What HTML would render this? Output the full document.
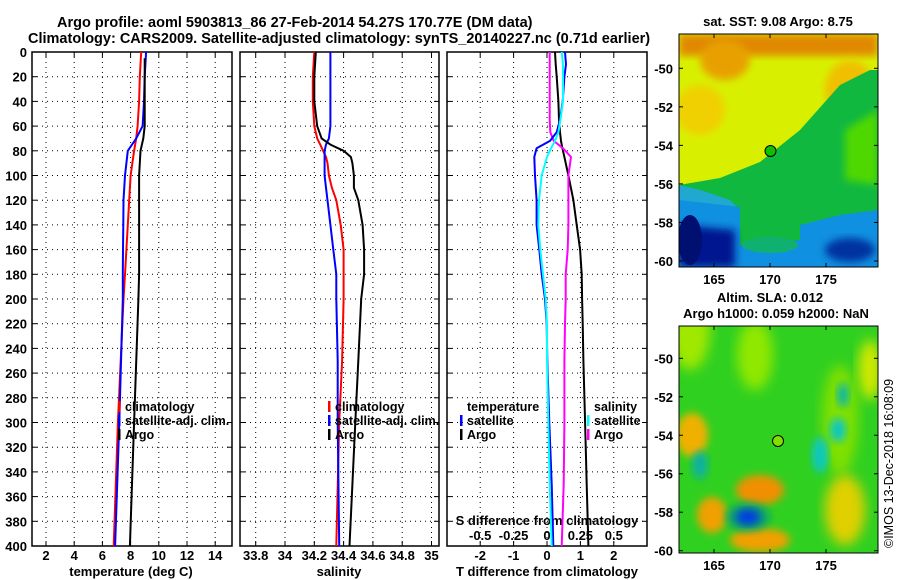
<!DOCTYPE html>
<html><head><meta charset="utf-8"><style>
html,body{margin:0;padding:0;background:#fff}
svg{display:block;font-family:"Liberation Sans",sans-serif;font-weight:bold}
</style></head><body>
<svg id="chart" width="900" height="580" viewBox="0 0 900 580" xmlns="http://www.w3.org/2000/svg">
<defs>
<filter id="bl" x="-20%" y="-20%" width="140%" height="140%"><feGaussianBlur stdDeviation="4"/></filter>
<filter id="bl2" x="-20%" y="-20%" width="140%" height="140%"><feGaussianBlur stdDeviation="6"/></filter>
<clipPath id="c1"><rect x="679" y="34" width="199" height="233"/></clipPath>
<clipPath id="c2"><rect x="679" y="326" width="199" height="227"/></clipPath>
</defs>
<text x="57" y="27" font-size="14.5">Argo profile: aoml 5903813_86 27-Feb-2014 54.27S 170.77E (DM data)</text>
<text x="28" y="43" font-size="14.5">Climatology: CARS2009. Satellite-adjusted climatology: synTS_20140227.nc (0.71d earlier)</text>
<g id="panels"></g>
<!-- SST map -->
<g clip-path="url(#c1)">
<rect x="679" y="34" width="199" height="233" fill="#d8f000"/>
<rect x="679" y="34" width="199" height="22" fill="#e08800" filter="url(#bl)"/>
<ellipse cx="725" cy="60" rx="25" ry="20" fill="#e8a000" filter="url(#bl)"/>
<ellipse cx="850" cy="90" rx="25" ry="30" fill="#f0c000" filter="url(#bl)"/>
<ellipse cx="700" cy="110" rx="25" ry="25" fill="#f0d000" filter="url(#bl)"/>
<polygon points="679,185 720,178 760,162 800,130 840,85 870,70 878,70 878,267 679,267" fill="#10b840"/>
<polygon points="845,130 878,110 878,185 845,180" fill="#50d800" filter="url(#bl)"/>
<polygon points="679,185 700,190 730,200 740,210 730,215 679,215" fill="#20a8d0"/>
<polygon points="679,200 740,207 740,267 679,267" fill="#1090e0"/>
<polygon points="800,225 840,215 878,210 878,267 800,267" fill="#1090e0"/>
<polygon points="740,245 800,240 800,267 740,267" fill="#1090e0"/>
<polygon points="679,225 735,230 735,267 679,267" fill="#001890" filter="url(#bl)"/>
<ellipse cx="850" cy="250" rx="25" ry="12" fill="#0030a0" filter="url(#bl)"/>
<ellipse cx="770" cy="245" rx="28" ry="8" fill="#10b070"/>
<ellipse cx="690" cy="240" rx="12" ry="25" fill="#001070"/>
<circle cx="770.5" cy="151" r="5.5" fill="#10c000" stroke="#000" stroke-width="1"/>
</g>
<rect x="679" y="34" width="199" height="233" fill="none" stroke="#000" stroke-width="1"/>
<text x="778" y="26" font-size="13" text-anchor="middle">sat. SST: 9.08 Argo: 8.75</text>
<!-- SLA map -->
<g clip-path="url(#c2)">
<rect x="679" y="326" width="199" height="227" fill="#30d020"/>
<ellipse cx="690" cy="330" rx="20" ry="40" fill="#a0e800" filter="url(#bl2)"/>
<ellipse cx="755" cy="355" rx="18" ry="35" fill="#90e800" filter="url(#bl2)"/>
<ellipse cx="870" cy="370" rx="12" ry="30" fill="#d0e800" filter="url(#bl2)"/>
<ellipse cx="692" cy="435" rx="16" ry="22" fill="#f0b000" filter="url(#bl)"/>
<ellipse cx="840" cy="420" rx="18" ry="55" fill="#80e000" filter="url(#bl2)"/>
<ellipse cx="845" cy="510" rx="20" ry="35" fill="#e0d000" filter="url(#bl2)"/>
<ellipse cx="760" cy="490" rx="24" ry="15" fill="#f09000" filter="url(#bl)"/>
<ellipse cx="712" cy="515" rx="15" ry="18" fill="#f0a000" filter="url(#bl)"/>
<ellipse cx="760" cy="540" rx="30" ry="12" fill="#f0a000" filter="url(#bl)"/>
<ellipse cx="748" cy="517" rx="22" ry="14" fill="#10a070" filter="url(#bl)"/>
<ellipse cx="748" cy="517" rx="12" ry="8" fill="#0040e0" filter="url(#bl)"/>
<ellipse cx="820" cy="455" rx="8" ry="18" fill="#10c8c0" filter="url(#bl)"/>
<ellipse cx="838" cy="430" rx="8" ry="12" fill="#10c8c0" filter="url(#bl)"/>
<ellipse cx="700" cy="465" rx="8" ry="14" fill="#10b0a0" filter="url(#bl)"/>
<ellipse cx="843" cy="395" rx="6" ry="12" fill="#10b8a0" filter="url(#bl)"/>
<circle cx="778" cy="441" r="5.5" fill="#80e000" stroke="#000" stroke-width="1"/>
</g>
<rect x="679" y="326" width="199" height="227" fill="none" stroke="#000" stroke-width="1"/>
<text x="770" y="302" font-size="13" text-anchor="middle">Altim. SLA: 0.012</text>
<text x="776" y="318" font-size="13" text-anchor="middle">Argo h1000: 0.059 h2000: NaN</text>
<text transform="translate(893,548) rotate(-90)" font-size="12.5" font-weight="normal">©IMOS 13-Dec-2018 16:08:09</text>
<g id="maps-axes"></g>
</svg>
<script>
// ---- data ----
const depthT = [0, 20, 40, 60, 70, 80, 100, 120, 140, 160, 180, 200, 300, 400];
const tempClim = [8.75, 8.65, 8.6, 8.5, 8.4, 8.25, 8.0, 7.9, 7.8, 7.7, 7.6, 7.5, 7.1, 6.8];
const tempSat = [9.1, 9.0, 8.95, 8.85, 8.4, 7.8, 7.6, 7.5, 7.48, 7.46, 7.45, 7.45, 7.2, 6.9];
const depthArgo = [5, 20, 40, 60, 70, 80, 100, 120, 140, 160, 180, 200, 300, 400];
const tempArgo = [9.0, 9.0, 9.0, 9.0, 8.9, 8.7, 8.6, 8.6, 8.6, 8.6, 8.6, 8.55, 8.25, 7.95];
const depthS = [0, 20, 40, 60, 70, 75, 80, 85, 90, 100, 110, 120, 140, 160, 180, 200, 250, 300, 400];
const salClim = [34.2, 34.19, 34.19, 34.2, 34.22, 34.24, 34.26, 34.28, 34.29, 34.3, 34.32, 34.35, 34.38, 34.4, 34.4, 34.4, 34.39, 34.37, 34.35];
const salSat = [34.31, 34.31, 34.31, 34.31, 34.3, 34.28, 34.27, 34.27, 34.27, 34.27, 34.28, 34.29, 34.31, 34.33, 34.35, 34.35, 34.36, 34.36, 34.37];
const salArgo = [34.21, 34.2, 34.2, 34.22, 34.25, 34.31, 34.4, 34.45, 34.46, 34.47, 34.47, 34.5, 34.53, 34.54, 34.54, 34.52, 34.5, 34.48, 34.44];
const depthD = [0, 10, 20, 40, 55, 65, 72, 78, 85, 100, 120, 140, 160, 180, 200, 220, 250, 300, 350, 400];
const tDiffSat = [0.54, 0.57, 0.52, 0.47, 0.39, 0.29, 0.09, -0.31, -0.38, -0.36, -0.31, -0.31, -0.23, -0.16, -0.06, -0.01, 0.01, 0.07, 0.14, 0.19];
const tDiffArgo = [0.24, 0.26, 0.29, 0.34, 0.36, 0.39, 0.42, 0.46, 0.52, 0.64, 0.79, 0.89, 0.99, 1.04, 1.05, 1.07, 1.09, 1.14, 1.19, 1.24];
const sDiffSat = [0.11, 0.12, 0.12, 0.12, 0.1, 0.085, 0.06, 0.03, 0.0, -0.04, -0.06, -0.065, -0.05, -0.03, -0.01, 0.0, 0.0, 0.01, 0.02, 0.035];
const sDiffArgo = [0.02, 0.02, 0.02, 0.02, 0.02, 0.025, 0.05, 0.12, 0.18, 0.16, 0.16, 0.16, 0.155, 0.14, 0.14, 0.135, 0.13, 0.13, 0.125, 0.11];
const depthTicks = [0,20,40,60,80,100,120,140,160,180,200,220,240,260,280,300,320,340,360,380,400];
const tempTicks = [2,4,6,8,10,12,14];
const salTicks = ["33.8","34","34.2","34.4","34.6","34.8","35"];
const tdTicks = [-2,-1,0,1,2];
const sdTicks = ["-0.5","-0.25","0","0.25","0.5"];
const lonTicks = [165,170,175];
const latTicks = [-50,-52,-54,-56,-58,-60];

// ---- axes ----
const NS = "http://www.w3.org/2000/svg";
const root = document.getElementById('panels');
const Y0 = 52, Y1 = 546;
const yD = d => Y0 + d * (Y1 - Y0) / 400;
const P1 = {x0: 32, x1: 232}, P2 = {x0: 240, x1: 439}, P3 = {x0: 447, x1: 647};
const xT = t => 46 + (t - 2) * 14.1;
const xS = s => 285 + (s - 34) * 146.5;
const xTD = t => 547 + t * 33.4;
const xSD = s => 547 + s * 133.6;
function el(tag, attrs, parent) {
  const e = document.createElementNS(NS, tag);
  for (const k in attrs) e.setAttribute(k, attrs[k]);
  (parent || root).appendChild(e);
  return e;
}
function txt(s, attrs, parent) { const e = el('text', attrs, parent); e.textContent = s; return e; }

function frame(P, xs, name) {
  const g = el('g', {});
  
  
  depthTicks.forEach(d => {
    const y = yD(d);
    if (d > 0 && d < 400) el('line', {x1: P.x0, x2: P.x1, y1: y, y2: y, stroke: '#000', 'stroke-width': 1, 'stroke-dasharray': '1,4'}, g);
    el('line', {x1: P.x0, x2: P.x0 + 5, y1: y, y2: y, stroke: '#000'}, g);
    el('line', {x1: P.x1 - 5, x2: P.x1, y1: y, y2: y, stroke: '#000'}, g);
  });
  xs.forEach(x => {
    el('line', {x1: x, x2: x, y1: Y0, y2: Y1, stroke: '#000', 'stroke-width': 1, 'stroke-dasharray': '1,4'}, g);
    el('line', {x1: x, x2: x, y1: Y1 - 5, y2: Y1, stroke: '#000'}, g);
    el('line', {x1: x, x2: x, y1: Y0, y2: Y0 + 5, stroke: '#000'}, g);
  });
  el('rect', {x: P.x0, y: Y0, width: P.x1 - P.x0, height: Y1 - Y0, fill: 'none', stroke: '#000', 'stroke-width': 1.5}, g);
  return g;
}
function line(xsArr, ds, fx, color, name, w) {
  const pts = xsArr.map((v, i) => fx(v).toFixed(1) + ',' + yD(ds[i]).toFixed(1)).join(' ');
  const p = el('polyline', {points: pts, fill: 'none', stroke: color, 'stroke-width': w || 2, 'stroke-linejoin': 'round'});
  
  
}

depthTicks.forEach(d => {
  const t = txt(String(d), {x: 27, y: yD(d) + 5, 'font-size': 13, 'text-anchor': 'end'});
  
  
});

frame(P1, tempTicks.map(xT), 'temperature-panel');
frame(P2, salTicks.map(s => xS(+s)), 'salinity-panel');
frame(P3, tdTicks.map(xTD), 'difference-panel');

tempTicks.forEach(t => { const e = txt(String(t), {x: xT(t), y: 560, 'font-size': 13, 'text-anchor': 'middle'});   });
salTicks.forEach(s => { const e = txt(s, {x: xS(+s), y: 560, 'font-size': 13, 'text-anchor': 'middle'});   });
tdTicks.forEach(t => { const e = txt(String(t), {x: xTD(t), y: 560, 'font-size': 13, 'text-anchor': 'middle'});   });
sdTicks.forEach(s => { const e = txt(s, {x: xSD(+s), y: 540, 'font-size': 13, 'text-anchor': 'middle'});   });

let e;
e = txt('temperature (deg C)', {x: 131, y: 576, 'font-size': 13, 'text-anchor': 'middle'});  
e = txt('salinity', {x: 339, y: 576, 'font-size': 13, 'text-anchor': 'middle'});  
e = txt('T difference from climatology', {x: 547, y: 576, 'font-size': 13, 'text-anchor': 'middle'});  
e = txt('S difference from climatology', {x: 547, y: 525, 'font-size': 13, 'text-anchor': 'middle'});  

line(tempClim, depthT, xT, '#f00', 'temperature-climatology-line');
line(tempSat, depthT, xT, '#00f', 'temperature-satellite-line');
line(tempArgo, depthArgo, xT, '#000', 'temperature-argo-line');
line(salClim, depthS, xS, '#f00', 'salinity-climatology-line');
line(salSat, depthS, xS, '#00f', 'salinity-satellite-line');
line(salArgo, depthS, xS, '#000', 'salinity-argo-line');
line(tDiffArgo, depthD, xTD, '#000', 't-diff-argo-line');
line(sDiffArgo, depthD, xSD, '#f0f', 's-diff-argo-line');
line(tDiffSat, depthD, xTD, '#00f', 't-diff-satellite-line');
line(sDiffSat, depthD, xSD, '#0ff', 's-diff-satellite-line');

function legend(x, y, entries, name) {
  const g = el('g', {});
  
  
  entries.forEach((en, i) => {
    const yy = y + i * 14;
    if (en[1]) el('rect', {x: x, y: yy - 10, width: 2.5, height: 11, fill: en[1]}, g);
    txt(en[0], {x: x + 7, y: yy, 'font-size': 12.5}, g);
  });
}
legend(118, 411, [['climatology', '#f00'], ['satellite-adj. clim.', '#00f'], ['Argo', '#000']], 'temperature-legend');
legend(328, 411, [['climatology', '#f00'], ['satellite-adj. clim.', '#00f'], ['Argo', '#000']], 'salinity-legend');
legend(460, 411, [['temperature', null], ['satellite', '#00f'], ['Argo', '#000']], 't-diff-legend');
legend(587, 411, [['salinity', null], ['satellite', '#0ff'], ['Argo', '#f0f']], 's-diff-legend');

const mg = document.getElementById('maps-axes');
const xLon = l => 714 + (l - 165) * 11.2;
[[34, 267, 68.3, 261], [326, 553, 358.3, 550.7]].forEach((m, mi) => {
  const yLat = la => m[2] + (-50 - la) * (m[3] - m[2]) / 10;
  lonTicks.forEach(l => {
    el('line', {x1: xLon(l), x2: xLon(l), y1: m[1], y2: m[1] - 4, stroke: '#000'}, mg);
    el('line', {x1: xLon(l), x2: xLon(l), y1: m[0], y2: m[0] + 4, stroke: '#000'}, mg);
    const t = txt(String(l), {x: xLon(l), y: m[1] + 17, 'font-size': 13, 'text-anchor': 'middle'}, mg);
    
    
  });
  latTicks.forEach(la => {
    el('line', {x1: 679, x2: 683, y1: yLat(la), y2: yLat(la), stroke: '#000'}, mg);
    el('line', {x1: 874, x2: 878, y1: yLat(la), y2: yLat(la), stroke: '#000'}, mg);
    const t = txt(String(la), {x: 673, y: yLat(la) + 5, 'font-size': 13, 'text-anchor': 'end'}, mg);
    
    
  });
});
</script>
</body></html>
